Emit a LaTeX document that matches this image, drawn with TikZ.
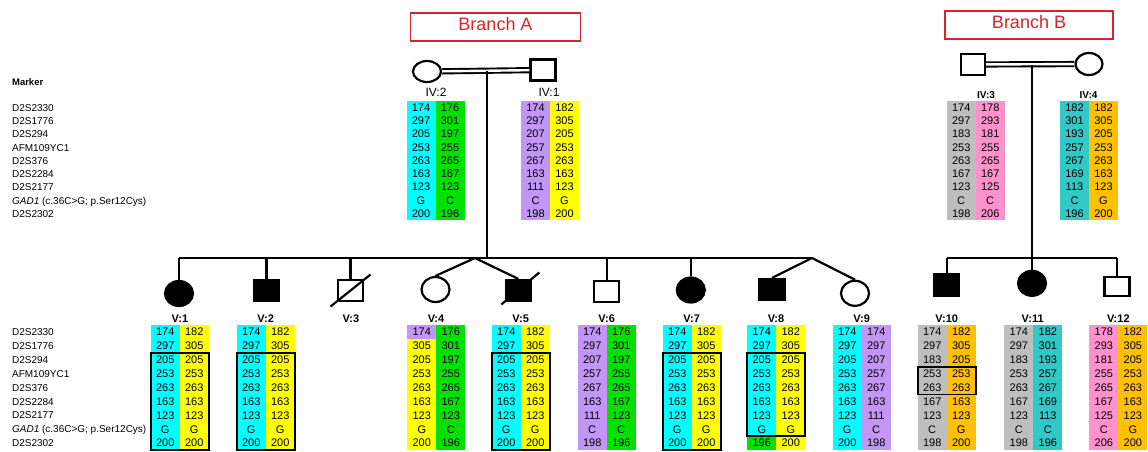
\documentclass[tikz,border=0pt]{standalone}
\usepackage{fontspec}
\setmainfont{Liberation Sans}
\usetikzlibrary{shapes.geometric}

\definecolor{hcyan}{RGB}{0,255,255}
\definecolor{hgreen}{RGB}{0,225,0}
\definecolor{hpurple}{RGB}{195,150,245}
\definecolor{hyellow}{RGB}{255,255,0}
\definecolor{hgrey}{RGB}{190,190,190}
\definecolor{hpink}{RGB}{255,145,205}
\definecolor{hteal}{RGB}{50,200,200}
\definecolor{horange}{RGB}{255,192,0}
\definecolor{branchred}{RGB}{215,35,45}

% one allele column: name, x, top, row height, colour, values
\newcommand\hapcol[6]{%
  \fill[#5] (#2,#3) rectangle ++(29,9*#4);
  \foreach \val [count=\row] in {#6}
    \node[allele] (#1-\row) at (#2+14.5,#3+\row*#4-0.5*#4) {\val};
}
% two columns side by side
\newcommand\haplo[8]{%
  \hapcol{#1a}{#2}{#3}{#4}{#5}{#7}
  \hapcol{#1b}{#2+29}{#3}{#4}{#6}{#8}
}
% single cell of another colour: x, top, row height, row, colour, value
\newcommand\hapcell[6]{%
  \node[allele, fill=#5, minimum width=29, minimum height=#3]
    at (#1+14.5,#2+#4*#3-0.5*#3) {#6};
}
% shared segment frame: x, first row, last row
\newcommand\hapbox[3]{%
  \draw[boxline] (#1,325+#2*13.9-13.9) rectangle (#1+58,325+#3*13.9);
}

\begin{document}
\begin{tikzpicture}[x=1pt, y=-1pt, line width=2.2pt,
  male/.style = {draw, rectangle, minimum width=25, minimum height=21, inner sep=0},
  female/.style = {draw, ellipse, minimum width=28, minimum height=25, inner sep=0},
  aff/.style = {fill=black},
  allele/.style = {inner sep=0, font=\fontsize{11}{12}\selectfont},
  marker/.style = {anchor=base west, inner sep=0, font=\fontsize{10}{12}\selectfont},
  vlab/.style = {inner sep=0, font=\fontsize{11}{12}\selectfont\bfseries},
  ivlab/.style = {inner sep=0, font=\fontsize{12}{14}\selectfont},
  branch/.style = {draw=branchred, text=branchred, line width=1.3pt,
    minimum width=170, minimum height=28, text depth=6pt,
    font=\fontsize{18}{20}\selectfont},
  boxline/.style = {line width=1.7pt},
  marry/.style = {double, double distance=2.4pt, line width=1.9pt}
  ]
  \useasboundingbox (0,0) rectangle (1148,451);

  \node[branch] (brA) at (495.5,27) {Branch A};
  \node[branch, minimum width=168] (brB) at (1029,25) {Branch B};

  % marker names
  \node[marker, font=\fontsize{9.5}{12}\selectfont\bfseries] (mk) at (11,85.5) {Marker};
  \foreach \m [count=\row] in {D2S2330, D2S1776, D2S294, AFM109YC1, D2S376,
      D2S2284, D2S2177, {\textit{GAD1} (c.36C>G; p.Ser12Cys)}, D2S2302} {
    \node[marker] (mu-\row) at (11,101+\row*13.25-6.6+3.6) {\m};
    \node[marker] (ml-\row) at (11,325+\row*13.9-6.95+3.6) {\m};
  }

  % generation IV
  \node[female, minimum height=21] (iv2) at (427,71.5) {};
  \node[male] (iv1) at (543,70) {};
  \node[male, minimum width=24] (iv3) at (973,64.5) {};
  \node[female, minimum width=27, minimum height=22] (iv4) at (1089,64) {};

  \node[ivlab] (l-iv2) at (436,92) {IV:2};
  \node[ivlab] (l-iv1) at (549,92) {IV:1};
  \node[vlab, font=\fontsize{10}{12}\selectfont\bfseries] (l-iv3) at (986,95) {IV:3};
  \node[vlab, font=\fontsize{10}{12}\selectfont\bfseries] (l-iv4) at (1088.5,95) {IV:4};

  % generation V
  \node[female, aff] (v1) at (179,293.5) {};
  \node[male, aff] (v2) at (266.5,290.5) {};
  \node[male] (v3) at (350.5,290.5) {};
  \node[female] (v4) at (435.5,289.5) {};
  \node[male, aff] (v5) at (518.3,290.5) {};
  \node[male] (v6) at (606.7,291.7) {};
  \node[female, aff] (v7) at (690.8,290) {};
  \node[male, aff] (v8) at (772,289.5) {};
  \node[female] (v9) at (855,293.3) {};
  \node[male, aff] (v10) at (946.7,285) {};
  \node[female, aff] (v11) at (1032,283.3) {};
  \node[male, minimum height=19] (v12) at (1117,286.7) {};

  \foreach \n/\x in {1/180, 2/265.7, 3/351, 4/436, 5/520.7, 6/606.7, 7/691.7,
      8/776, 9/861.7, 10/946.7, 11/1032.7, 12/1118.3}
    \node[vlab] (l-v\n) at (\x,319) {V:\n};

  % branch A lines
  \coordinate (mA) at (487,71);
  \coordinate (sA) at (487,258);
  \coordinate (twA) at (475,258);
  \coordinate (twB) at (812,258);
  \draw[marry] (iv2) -- (iv1);
  \draw (mA) -- (sA);
  \draw (v1.north |- sA) -- (twB);
  \foreach \kid in {v1,v2,v3,v6,v7}
    \draw (\kid.north) -- (\kid.north |- sA);
  \draw (v4.north) -- (twA) -- (v5.north);
  \draw (v8.north) -- (twB) -- (v9.north);
  \draw ([shift={(-20,16)}]v3.center) -- ([shift={(20,-16)}]v3.center);
  \draw ([shift={(-17,14)}]v5.center) -- ([shift={(21,-18)}]v5.center);

  % branch B lines
  \coordinate (mB) at (1032,65);
  \coordinate (sB) at (1032,258);
  \draw[marry] (iv3) -- (iv4);
  \draw (mB) -- (v11.north);
  \draw (v10.north |- sB) -- (v12.north |- sB);
  \foreach \kid in {v10,v12}
    \draw (\kid.north) -- (\kid.north |- sB);

  % haplotypes, generation IV
  \haplo{iv2}{406.5}{101}{13.25}{hcyan}{hgreen}
    {174,297,205,253,263,163,123,G,200}{176,301,197,255,265,167,123,C,196}
  \haplo{iv1}{521}{101}{13.25}{hpurple}{hyellow}
    {174,297,207,257,267,163,111,C,198}{182,305,205,253,263,163,123,G,200}
  \haplo{iv3}{946.7}{101}{13.25}{hgrey}{hpink}
    {174,297,183,253,263,167,123,C,198}{178,293,181,255,265,167,125,C,206}
  \haplo{iv4}{1060}{101}{13.25}{hteal}{horange}
    {182,301,193,257,267,169,113,C,196}{182,305,205,253,263,163,123,G,200}

  % haplotypes, generation V
  \haplo{v1}{150.7}{325}{13.9}{hcyan}{hyellow}
    {174,297,205,253,263,163,123,G,200}{182,305,205,253,263,163,123,G,200}
  \haplo{v2}{236.7}{325}{13.9}{hcyan}{hyellow}
    {174,297,205,253,263,163,123,G,200}{182,305,205,253,263,163,123,G,200}
  \haplo{v4}{407.3}{325}{13.9}{hyellow}{hgreen}
    {174,305,205,253,263,163,123,G,200}{176,301,197,255,265,167,123,C,196}
  \hapcell{407.3}{325}{13.9}{1}{hpurple}{174}
  \haplo{v5}{491.7}{325}{13.9}{hcyan}{hyellow}
    {174,297,205,253,263,163,123,G,200}{182,305,205,253,263,163,123,G,200}
  \haplo{v6}{577.7}{325}{13.9}{hpurple}{hgreen}
    {174,297,207,257,267,163,111,C,198}{176,301,197,255,265,167,123,C,196}
  \haplo{v7}{662.7}{325}{13.9}{hcyan}{hyellow}
    {174,297,205,253,263,163,123,G,200}{182,305,205,253,263,163,123,G,200}
  \haplo{v8}{747.3}{325}{13.9}{hcyan}{hyellow}
    {174,297,205,253,263,163,123,G,196}{182,305,205,253,263,163,123,G,200}
  \hapcell{747.3}{325}{13.9}{9}{hgreen}{196}
  \haplo{v9}{832.7}{325}{13.9}{hcyan}{hpurple}
    {174,297,205,253,263,163,123,G,200}{174,297,207,257,267,163,111,C,198}
  \haplo{v10}{917.7}{325}{13.9}{hgrey}{horange}
    {174,297,183,253,263,167,123,C,198}{182,305,205,253,263,163,123,G,200}
  \haplo{v11}{1004.3}{325}{13.9}{hgrey}{hteal}
    {174,297,183,253,263,167,123,C,198}{182,301,193,257,267,169,113,C,196}
  \haplo{v12}{1089.3}{325}{13.9}{hpink}{horange}
    {178,293,181,255,265,167,125,C,206}{182,305,205,253,263,163,123,G,200}

  % shared segments
  \hapbox{150.7}{3}{9}
  \hapbox{236.7}{3}{9}
  \hapbox{491.7}{3}{9}
  \hapbox{662.7}{3}{9}
  \hapbox{747.3}{3}{8}
  \hapbox{917.7}{4}{5}
\end{tikzpicture}
\end{document}
